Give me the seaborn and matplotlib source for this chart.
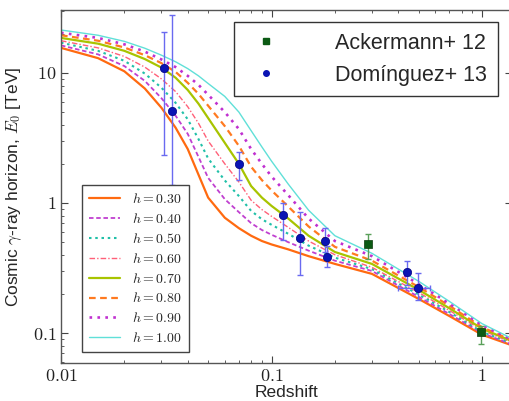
import numpy as np
import pandas as pd
import seaborn as sns
import matplotlib
matplotlib.use("Agg")
import matplotlib.pyplot as plt
from matplotlib.lines import Line2D
from matplotlib.ticker import FixedLocator, FuncFormatter, LogLocator, NullFormatter

# Redshift grid and horizon energy [TeV] for each h value
z_grid = [0.01, 0.015, 0.02, 0.025, 0.03, 0.035, 0.04, 0.045, 0.05, 0.06, 0.07,
          0.08, 0.09, 0.1, 0.12, 0.15, 0.2, 0.3, 0.5, 0.7, 1.0, 1.4]
h_labels = ["0.30", "0.40", "0.50", "0.60", "0.70", "0.80", "0.90", "1.00"]
e_h030 = [15.6, 13.0, 10.3, 7.6, 5.4, 3.8, 2.6, 1.65, 1.1, 0.77, 0.64,
          0.56, 0.51, 0.48, 0.44, 0.39, 0.34, 0.285, 0.183, 0.135, 0.097, 0.080]
e_h040 = [16.3, 13.9, 11.3, 8.7, 6.4, 4.7, 3.4, 2.26, 1.56, 1.07, 0.85,
          0.70, 0.62, 0.57, 0.50, 0.43, 0.36, 0.30, 0.19, 0.14, 0.100, 0.081]
e_h050 = [17.1, 14.8, 12.4, 9.9, 7.7, 5.9, 4.4, 3.1, 2.2, 1.49, 1.13,
          0.87, 0.75, 0.68, 0.58, 0.47, 0.38, 0.31, 0.198, 0.145, 0.102, 0.083]
e_h060 = [17.7, 15.6, 13.4, 11.1, 9.0, 7.2, 5.5, 4.1, 3.0, 2.0, 1.45,
          1.05, 0.89, 0.79, 0.65, 0.51, 0.40, 0.32, 0.205, 0.149, 0.105, 0.084]
e_h070 = [18.6, 16.8, 14.8, 12.8, 11.0, 9.2, 7.4, 5.8, 4.5, 2.9, 2.0,
          1.35, 1.1, 0.95, 0.76, 0.56, 0.42, 0.34, 0.215, 0.155, 0.108, 0.086]
e_h080 = [19.5, 17.7, 15.7, 13.7, 11.9, 10.2, 8.4, 6.9, 5.6, 3.9, 2.75,
          1.9, 1.5, 1.25, 0.94, 0.66, 0.46, 0.36, 0.226, 0.162, 0.111, 0.087]
e_h090 = [20.4, 18.6, 16.6, 14.6, 12.7, 11.1, 9.5, 8.1, 6.8, 5.0, 3.7,
          2.6, 2.0, 1.6, 1.15, 0.76, 0.51, 0.39, 0.238, 0.168, 0.115, 0.088]
e_h100 = [21.4, 19.5, 17.5, 15.5, 13.7, 12.2, 10.8, 9.5, 8.3, 6.6, 5.0,
          3.6, 2.7, 2.1, 1.4, 0.88, 0.56, 0.41, 0.25, 0.175, 0.118, 0.090]
curves = [e_h030, e_h040, e_h050, e_h060, e_h070, e_h080, e_h090, e_h100]

# Ackermann+ 12
ack_z = [0.287, 0.99]
ack_e = [0.484, 0.102]
ack_lo = [0.37, 0.082]
ack_hi = [0.578, 0.113]

# Dominguez+ 13
dom_z = [0.031, 0.0336, 0.070, 0.114, 0.137, 0.179, 0.183, 0.44, 0.497]
dom_e = [10.9, 5.1, 2.0, 0.81, 0.54, 0.51, 0.385, 0.295, 0.222]
dom_lo = [2.34, 1.37, 1.5, 0.52, 0.28, 0.42, 0.32, 0.235, 0.18]
dom_hi = [20.7, 27.9, 2.47, 1.0, 0.85, 0.64, 0.47, 0.36, 0.29]
dom_zlo = [0.031, 0.0336, 0.070, 0.114, 0.137, 0.179, 0.183, 0.44, 0.40]
dom_zhi = [0.031, 0.0336, 0.070, 0.114, 0.137, 0.179, 0.183, 0.44, 0.566]

styles = [
    ("#ff6a10", "-", 1.6),
    ("#c040d0", (0, (2.5, 1.5)), 1.3),
    ("#20c0a8", (0, (1.2, 1.8)), 1.5),
    ("#ff6078", (0, (4, 1.5, 1, 1.5)), 1.0),
    ("#a8c400", "-", 1.6),
    ("#ff7a20", (0, (3, 2)), 1.6),
    ("#c030d0", (0, (1, 2)), 1.9),
    ("#60e0d8", "-", 1.0),
]

sns.set_style("ticks")
plt.rcParams["font.family"] = ["Liberation Sans", "DejaVu Sans"]
plt.rcParams["mathtext.fontset"] = "cm"

fig = plt.figure(figsize=(5.1, 4.01), dpi=100)
ax = fig.add_axes([61 / 510, 38 / 401, 451 / 510, 353 / 401])

h_handles = []
for lab, vals, (col, ls, lw) in zip(h_labels, curves, styles):
    sns.lineplot(x=z_grid, y=vals, ax=ax, color=col, lw=lw, sort=False)
    line = ax.lines[-1]
    line.set_linestyle(ls)
    line.set_label(r"$h = %s$" % lab)
    h_handles.append(line)

# data points with error bars
dom_e_a = np.array(dom_e)
dom_z_a = np.array(dom_z)
ax.errorbar(dom_z, dom_e,
            yerr=[dom_e_a - np.array(dom_lo), np.array(dom_hi) - dom_e_a],
            xerr=[dom_z_a - np.array(dom_zlo), np.array(dom_zhi) - dom_z_a],
            fmt="none", ecolor="#6a6af0", elinewidth=1.0, capsize=2, zorder=5)
ack_e_a = np.array(ack_e)
ax.errorbar(ack_z, ack_e,
            yerr=[ack_e_a - np.array(ack_lo), np.array(ack_hi) - ack_e_a],
            fmt="none", ecolor="#5aa05a", elinewidth=1.0, capsize=2, zorder=5)
sns.scatterplot(x=ack_z, y=ack_e, ax=ax, marker="s", s=30, color="#0b5a14",
                edgecolor="#0b3a0b", linewidth=0.5, zorder=6)
sns.scatterplot(x=dom_z, y=dom_e, ax=ax, marker="o", s=36, color="#0a14b4",
                edgecolor="#000080", linewidth=0.5, zorder=6)

ax.set_xscale("log")
ax.set_yscale("log")
ax.set_xlim(0.01, 1.388)
ax.set_ylim(0.0588, 30.5)

fmt = FuncFormatter(lambda v, p: r"$%g$" % v)
ax.xaxis.set_major_locator(FixedLocator([0.01, 0.1, 1]))
ax.yaxis.set_major_locator(FixedLocator([0.1, 1, 10]))
ax.xaxis.set_major_formatter(fmt)
ax.yaxis.set_major_formatter(fmt)
ax.xaxis.set_minor_locator(LogLocator(base=10, subs=np.arange(2, 10)))
ax.yaxis.set_minor_locator(LogLocator(base=10, subs=np.arange(2, 10)))
ax.xaxis.set_minor_formatter(NullFormatter())
ax.yaxis.set_minor_formatter(NullFormatter())
ax.tick_params(which="both", direction="in", top=True, right=True,
               colors="#444444", labelcolor="#222222", labelsize=13)
ax.tick_params(which="major", length=5, width=0.8)
ax.tick_params(which="minor", length=2.5, width=0.6)
for sp in ax.spines.values():
    sp.set_color("#555555")
    sp.set_linewidth(1.0)

ax.set_xlabel("Redshift", fontsize=12.5, labelpad=0)
ax.set_ylabel(r"Cosmic $\gamma$-ray horizon, $E_0$ [TeV]", fontsize=12.5, labelpad=6)

# legends
src_handles = [
    Line2D([], [], ls="none", marker="s", ms=4, color="#0b5a14"),
    Line2D([], [], ls="none", marker="o", ms=4, color="#0a14b4"),
]
leg1 = ax.legend(src_handles, ["Ackermann+ 12", "Domínguez+ 13"],
                 loc="upper right", bbox_to_anchor=(498 / 510, 1 - 22 / 401),
                 bbox_transform=fig.transFigure, borderaxespad=0,
                 fontsize=15.5, frameon=True, fancybox=False,
                 handletextpad=2.2, borderpad=0.5, labelspacing=0.5,
                 edgecolor="#333333", framealpha=1)
leg1.get_frame().set_linewidth(1.0)
ax.add_artist(leg1)

leg2 = ax.legend(handles=h_handles, loc="lower left",
                 bbox_to_anchor=(82 / 510, 1 - 352 / 401),
                 bbox_transform=fig.transFigure, borderaxespad=0,
                 fontsize=10, frameon=True, fancybox=False,
                 handlelength=2.2, handletextpad=0.9, labelspacing=0.42,
                 borderpad=0.5, edgecolor="#444444", framealpha=1)
leg2.get_frame().set_linewidth(1.0)

fig.savefig("out.png", dpi=100)
